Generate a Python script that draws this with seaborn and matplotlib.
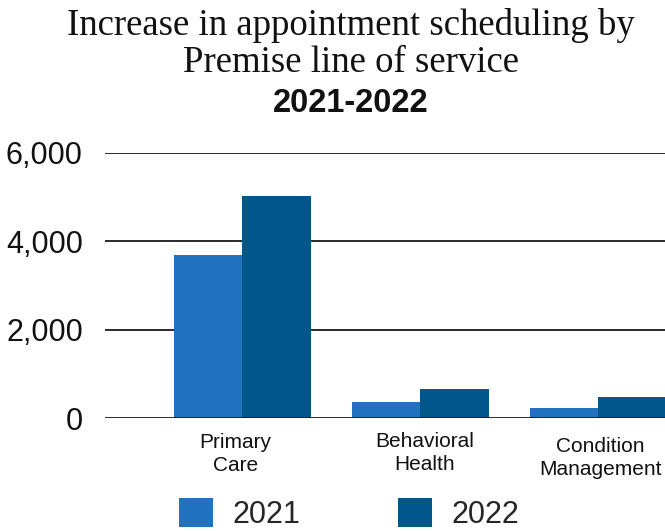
import matplotlib
matplotlib.use("Agg")
import matplotlib.pyplot as plt
import matplotlib.transforms as mtransforms
from matplotlib.patches import Patch
import seaborn as sns
import pandas as pd

categories = ["Primary\nCare", "Behavioral\nHealth", "Condition\nManagement"]
years = ["2021", "2022"]
values_2021 = [3680, 360, 230]
values_2022 = [5020, 650, 470]
y_ticks = [0, 2000, 4000, 6000]
y_tick_labels = ["0", "2,000", "4,000", "6,000"]
colors = {"2021": "#2173BF", "2022": "#02578A"}

df = pd.DataFrame({
    "category": categories * 2,
    "year": [years[0]] * 3 + [years[1]] * 3,
    "value": values_2021 + values_2022,
})

sns.set_theme(style="white")
plt.rcParams["font.family"] = ["Liberation Sans", "DejaVu Sans"]

fig = plt.figure(figsize=(6.65, 5.31), dpi=100)
ax = fig.add_axes([105 / 665, (531 - 418) / 531, 1 - 105 / 665, (418 - 153) / 531])

sns.barplot(data=df, x="category", y="value", hue="year", palette=colors,
            width=0.77, gap=0, saturation=1, ax=ax, legend=False, errorbar=None,
            linewidth=0)

ax.set_ylim(0, 6000)
ax.set_xlim(-0.77, 2.376)
ax.set_yticks(y_ticks)
ax.set_yticklabels(y_tick_labels, fontsize=22, color="#111111")
ax.tick_params(axis="y", length=0, pad=16)
ax.tick_params(axis="x", length=0, pad=11, labelsize=15, labelcolor="#111111")
offsets = [(-6.5, 0), (4.5, 1), (2, -4)]
for t, (dx, dy) in zip(ax.get_xticklabels(), offsets):
    t.set_linespacing(1.25)
    t.set_transform(t.get_transform() + mtransforms.ScaledTranslation(dx / 100, dy / 100, fig.dpi_scale_trans))
ax.set_xlabel("")
ax.set_ylabel("")
for s in ax.spines.values():
    s.set_visible(False)
ax.set_axisbelow(False)
for yv in y_ticks:
    ax.axhline(yv, color="#1a1a1a", lw=1.3, zorder=0.5 if yv > 0 else 3)

title_x = 351 / 665
fig.text(title_x, 1 - 35 / 531, "Increase in appointment scheduling by", ha="center", va="baseline",
         fontsize=26.5, family="Liberation Serif", color="#111111")
fig.text(title_x, 1 - 72 / 531, "Premise line of service", ha="center", va="baseline",
         fontsize=26.5, family="Liberation Serif", color="#111111")
fig.text(title_x, 1 - 104 / 531, "2021-2022", ha="center", va="center",
         fontsize=23.5, fontweight="bold", color="#111111")

handles = [Patch(facecolor=colors[y], edgecolor="none") for y in years]
fig.legend(handles, years, loc="upper left", bbox_to_anchor=(179 / 665, 1 - 498 / 531),
           ncol=2, frameon=False, fontsize=22, handlelength=1.1, handleheight=1.1,
           handletextpad=0.65, columnspacing=3.2, borderpad=0, borderaxespad=0)

fig.savefig("out.png", dpi=100)
